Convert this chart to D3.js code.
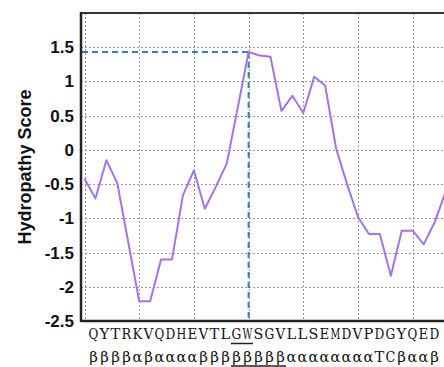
<!DOCTYPE html>
<html>
<head>
<meta charset="utf-8">
<script src="https://cdn.jsdelivr.net/npm/d3@7"></script>
<style>
  html, body { margin: 0; padding: 0; background: #fff; overflow: hidden; }
  svg { display: block; }
</style>
</head>
<body>
<svg id="chart" width="444" height="367"></svg>
<script>
// ---- data ----
const positions = d3.range(0, 34);
const scores = [-0.42, -0.71, -0.15, -0.49, -1.35, -2.21, -2.21, -1.60, -1.60, -0.66,
                -0.30, -0.86, -0.54, -0.20, 0.61, 1.43, 1.38, 1.36, 0.57, 0.79,
                 0.54, 1.07, 0.94, 0.02, -0.50, -0.98, -1.23, -1.23, -1.84, -1.18,
                -1.18, -1.38, -1.06, -0.62];
const yTicks = [1.5, 1, 0.5, 0, -0.5, -1, -1.5, -2, -2.5];
const yTickLabels = ["1.5", "1", "0.5", "0", "-0.5", "-1", "-1.5", "-2", "-2.5"];
const xGrid = [0, 5, 10, 15, 20, 25, 30, 35];
const sequence = "QYTRKVQDHEVTLGWSGVLLSEMDVPDGYQED".split("");
const structure = "ββββαβααααββββββββααααααααTCβααβ".split("");
const seqUnderline = [13, 15];      // "GW"
const structUnderline = [13, 18];
const peakIndex = 15;
const yTitle = "Hydropathy Score";

// ---- layout ----
const svg = d3.select("#chart");
const pLeft = 81, pTop = 13, pBottom = 321, pRight = 470;

const x = d3.scaleLinear().domain([0, 30]).range([84.5, 412.7]);
const y = d3.scaleLinear().domain([-2.5, 2]).range([pBottom, pTop]);
const seqX = d3.scaleLinear().domain([0, 32]).range([88, 440]);

svg.append("defs").append("clipPath").attr("id", "plotclip")
  .append("rect").attr("x", pLeft).attr("y", pTop).attr("width", pRight - pLeft).attr("height", pBottom - pTop);

// grid
const grid = svg.append("g").attr("stroke", "#9a9a9a").attr("stroke-width", 1)
  .attr("stroke-dasharray", "2,2").attr("clip-path", "url(#plotclip)");
grid.selectAll("line.h").data(yTicks.filter(v => v > -2.5)).join("line")
  .attr("class", "h")
  .attr("x1", pLeft).attr("x2", pRight)
  .attr("y1", d => Math.round(y(d)) + 0.5).attr("y2", d => Math.round(y(d)) + 0.5);
grid.selectAll("line.v").data(xGrid).join("line")
  .attr("class", "v")
  .attr("y1", pTop).attr("y2", pBottom)
  .attr("x1", d => Math.round(x(d)) + 0.5).attr("x2", d => Math.round(x(d)) + 0.5);

// peak guide lines
const peakX = x(positions[peakIndex]), peakY = y(scores[peakIndex]);
const guide = svg.append("g").attr("stroke", "#2f86a6").attr("stroke-width", 2)
  .attr("stroke-dasharray", "6,4").attr("fill", "none");
guide.append("line").attr("x1", pLeft + 1).attr("x2", peakX).attr("y1", peakY).attr("y2", peakY);
guide.append("line").attr("x1", peakX).attr("x2", peakX).attr("y1", peakY).attr("y2", pBottom);

// hydropathy line
const line = d3.line().x((d, i) => x(positions[i])).y(d => y(d));
svg.append("path").datum(scores)
  .attr("clip-path", "url(#plotclip)")
  .attr("fill", "none").attr("stroke", "#a673e4").attr("stroke-width", 2)
  .attr("stroke-linejoin", "round")
  .attr("d", line);

// frame
svg.append("line").attr("x1", pLeft).attr("x2", pRight).attr("y1", pTop).attr("y2", pTop)
  .attr("stroke", "#333").attr("stroke-width", 2);
svg.append("line").attr("x1", pLeft).attr("x2", pRight).attr("y1", pBottom).attr("y2", pBottom)
  .attr("stroke", "#222").attr("stroke-width", 2.5);

// y axis
const yAxis = d3.axisLeft(y).tickValues(yTicks)
  .tickFormat((d, i) => yTickLabels[i]).tickSize(0).tickPadding(7);
const gy = svg.append("g").attr("transform", `translate(${pLeft},0)`).call(yAxis);
gy.select(".domain").attr("stroke", "#222").attr("stroke-width", 2.5)
  .attr("d", `M0,${pTop - 1}V${pBottom + 1}`);
gy.selectAll("text").attr("font-family", "Liberation Sans, Arial, sans-serif")
  .attr("font-size", 17).attr("font-weight", "bold").attr("fill", "#111");

// y title
svg.append("text")
  .attr("transform", `translate(31,167) rotate(-90)`)
  .attr("text-anchor", "middle")
  .attr("font-family", "Liberation Sans, Arial, sans-serif")
  .attr("font-size", 18).attr("font-weight", "bold").attr("fill", "#111")
  .text(yTitle);

// sequence rows (monospaced cells, serif glyphs; wide glyphs condensed to fit a cell)
const serif = "'DejaVu Serif', serif";
const cell = seqX(1) - seqX(0) - 1.2;
function drawRow(chars, baseline) {
  svg.append("g").selectAll("text").data(chars).join("text")
    .attr("x", 0).attr("y", 0)
    .attr("text-anchor", "middle").attr("font-family", serif)
    .attr("font-size", 15).attr("fill", "#111")
    .text(d => d)
    .each(function (d, i) {
      const w = this.getComputedTextLength();
      const s = w > cell ? cell / w : 1;
      d3.select(this).attr("transform",
        `translate(${seqX(i + 0.5)},${baseline}) scale(${s},1)`);
    });
}
drawRow(sequence, 338.5);
drawRow(structure, 362);

svg.append("line").attr("x1", seqX(seqUnderline[0])).attr("x2", seqX(seqUnderline[1]))
  .attr("y1", 343.5).attr("y2", 343.5).attr("stroke", "#222").attr("stroke-width", 1.5);
svg.append("line").attr("x1", seqX(structUnderline[0])).attr("x2", seqX(structUnderline[1]))
  .attr("y1", 366).attr("y2", 366).attr("stroke", "#222").attr("stroke-width", 1.5);
</script>
</body>
</html>
